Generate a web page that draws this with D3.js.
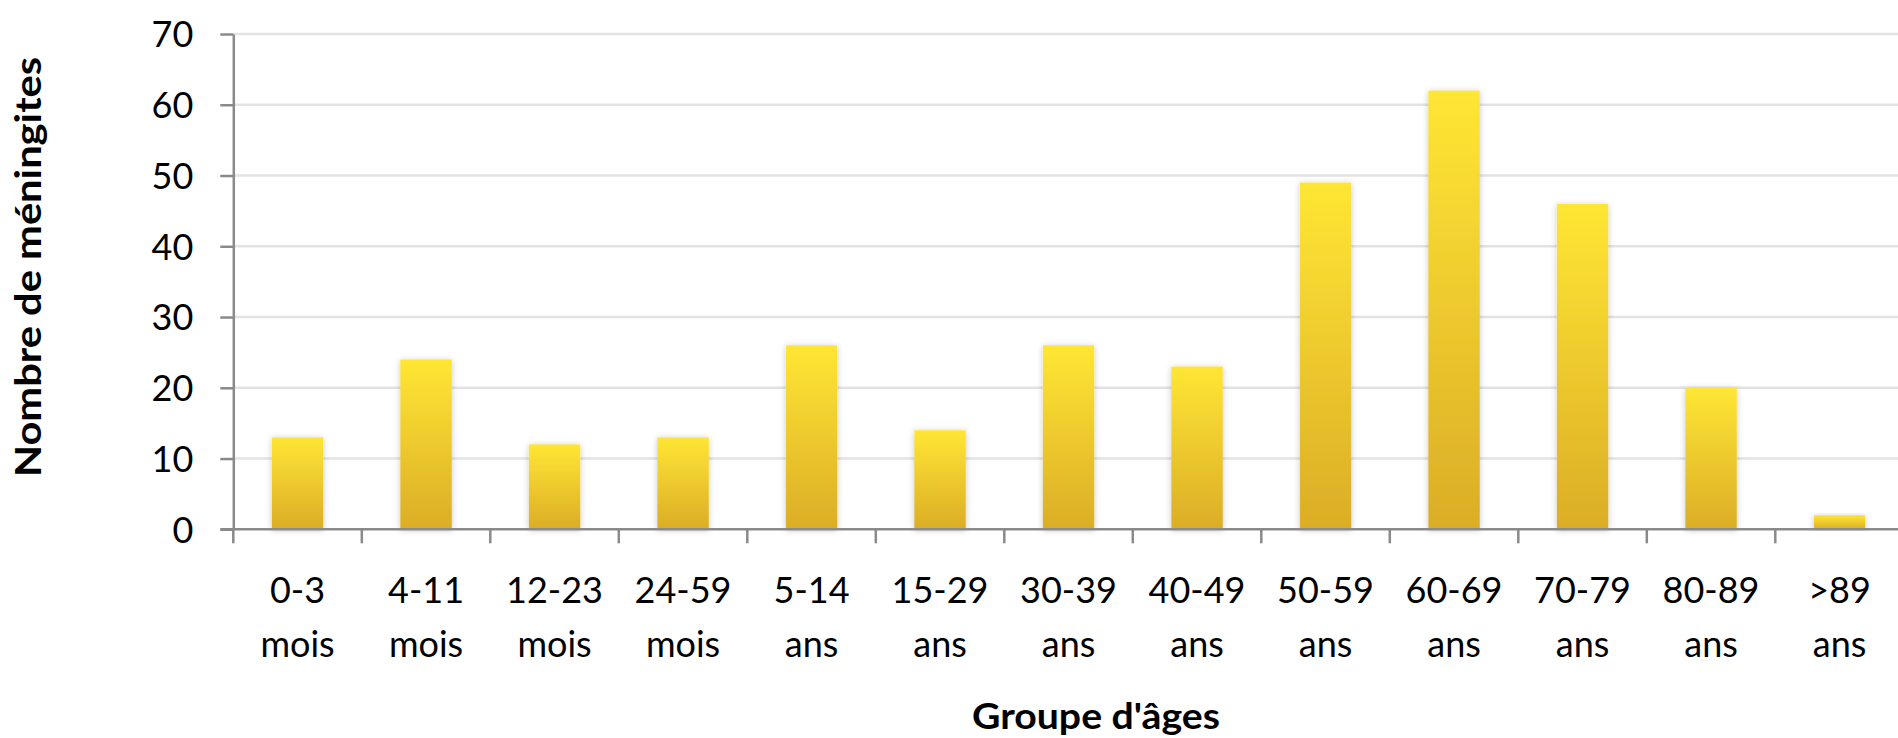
<!DOCTYPE html>
<html lang="fr">
<head>
<meta charset="utf-8">
<script src="https://cdn.jsdelivr.net/npm/d3@7"></script>
<style>
  html, body { margin: 0; padding: 0; background: #fff; overflow: hidden; }
  svg { display: block; font-family: Lato, "Open Sans", sans-serif; }
</style>
</head>
<body>
<svg id="chart" width="1898" height="738"></svg>
<script>
// Age groups (two-line labels) and number of meningitis cases per group
const categories = ["0-3 mois", "4-11 mois", "12-23 mois", "24-59 mois", "5-14 ans", "15-29 ans",
  "30-39 ans", "40-49 ans", "50-59 ans", "60-69 ans", "70-79 ans", "80-89 ans", ">89 ans"];
const cases = [13, 24, 12, 13, 26, 14, 26, 23, 49, 62, 46, 20, 2];
const yTicks = [0, 10, 20, 30, 40, 50, 60, 70];
const yTitle = "Nombre de méningites";
const xTitle = "Groupe d'âges";

const svg = d3.select("#chart");
const plotLeft = 233.3, bandStep = 128.5, plotTop = 34, plotBottom = 529.3;

const x = d3.scaleBand()
  .domain(categories)
  .range([plotLeft, plotLeft + bandStep * categories.length])
  .paddingInner(0.6)
  .paddingOuter(0.3);

const y = d3.scaleLinear().domain([0, 70]).range([plotBottom, plotTop]);

const defs = svg.append("defs");
const grad = defs.append("linearGradient")
  .attr("id", "barFill").attr("x1", 0).attr("y1", 0).attr("x2", 0).attr("y2", 1);
grad.append("stop").attr("offset", "0%").attr("stop-color", "#ffe634");
grad.append("stop").attr("offset", "100%").attr("stop-color", "#dbad27");

const shadow = defs.append("filter").attr("id", "barShadow")
  .attr("x", "-30%").attr("y", "-10%").attr("width", "160%").attr("height", "120%");
shadow.append("feDropShadow")
  .attr("dx", 0).attr("dy", 1).attr("stdDeviation", 3)
  .attr("flood-color", "#000").attr("flood-opacity", 0.22);

// Horizontal gridlines
svg.append("g")
  .selectAll("line")
  .data(yTicks.filter(d => d > 0))
  .join("line")
  .attr("x1", plotLeft).attr("x2", 1898)
  .attr("y1", d => y(d)).attr("y2", d => y(d))
  .attr("stroke", "#e3e3e3").attr("stroke-width", 2.5);

// Y axis
const yAxis = svg.append("g")
  .attr("transform", `translate(${plotLeft},0)`)
  .call(d3.axisLeft(y).tickValues(yTicks).tickSize(13).tickPadding(27).tickSizeOuter(0));
yAxis.select(".domain").attr("stroke", "#8a8a8a").attr("stroke-width", 2.5);
yAxis.selectAll(".tick line").attr("stroke", "#8a8a8a").attr("stroke-width", 2.5);
yAxis.selectAll(".tick text")
  .attr("font-size", 36).attr("fill", "#000")
  .attr("font-family", "Lato, 'Open Sans', sans-serif")
  .attr("dy", "0.36em");

// Bars
svg.append("g")
  .selectAll("rect")
  .data(categories.map((c, i) => ({ c, v: cases[i] })))
  .join("rect")
  .attr("x", d => x(d.c))
  .attr("y", d => y(d.v))
  .attr("width", x.bandwidth())
  .attr("height", d => y(0) - y(d.v))
  .attr("fill", "url(#barFill)")
  .attr("filter", "url(#barShadow)");

// X axis line and category boundary ticks
const xAxis = svg.append("g");
xAxis.append("line")
  .attr("x1", plotLeft - 13).attr("x2", 1898)
  .attr("y1", y(0)).attr("y2", y(0))
  .attr("stroke", "#8a8a8a").attr("stroke-width", 2.5);
xAxis.selectAll("line.tick")
  .data(categories.map((c, i) => i).concat([categories.length]))
  .join("line")
  .attr("class", "tick")
  .attr("x1", i => x.range()[0] + i * x.step())
  .attr("x2", i => x.range()[0] + i * x.step())
  .attr("y1", y(0)).attr("y2", y(0) + 14)
  .attr("stroke", "#8a8a8a").attr("stroke-width", 2.5);

// Category labels on two lines
const labels = svg.append("g")
  .selectAll("text")
  .data(categories)
  .join("text")
  .attr("text-anchor", "middle")
  .attr("font-size", 36)
  .attr("fill", "#000");
labels.each(function (c) {
  const parts = c.split(" ");
  const cx = x(c) + x.bandwidth() / 2;
  const t = d3.select(this);
  t.append("tspan").attr("x", cx).attr("y", 603).text(parts[0]);
  t.append("tspan").attr("x", cx).attr("y", 657).text(parts[1]);
});

// Axis titles
svg.append("text")
  .attr("transform", "translate(41,267) rotate(-90)")
  .attr("text-anchor", "middle")
  .attr("font-size", 36).attr("font-weight", 700).attr("fill", "#000")
  .attr("textLength", 420).attr("lengthAdjust", "spacingAndGlyphs")
  .text(yTitle);

svg.append("text")
  .attr("x", 1096).attr("y", 729)
  .attr("text-anchor", "middle")
  .attr("font-size", 36).attr("font-weight", 700).attr("fill", "#000")
  .attr("textLength", 248).attr("lengthAdjust", "spacingAndGlyphs")
  .text(xTitle);
</script>
</body>
</html>
